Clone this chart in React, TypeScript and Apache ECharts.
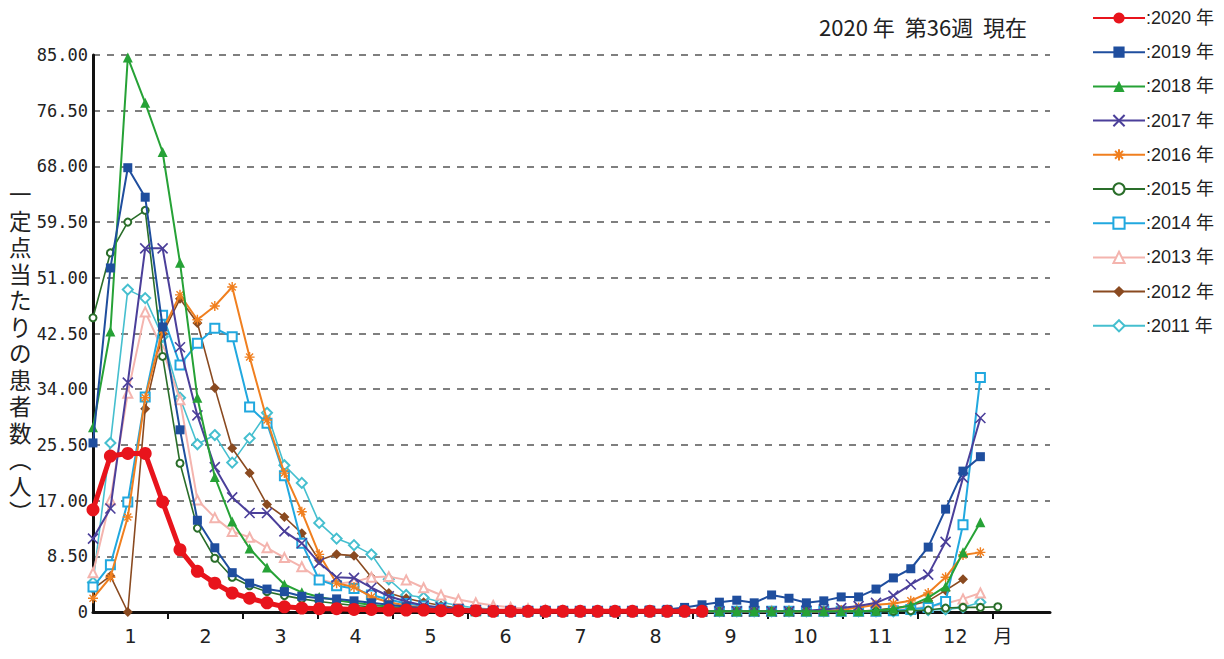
import React, { useEffect, useRef } from 'react';
import * as echarts from 'echarts';

// ---- texts ----
const TITLE = '2020 年  第36週  現在';
const Y_NAME_CHARS = ['一', '定', '点', '当', 'た', 'り', 'の', '患', '者', '数', '︵', '人', '︶'];
const MONTH_LABELS = ['1', '2', '3', '4', '5', '6', '7', '8', '9', '10', '11', '12', '月'];
const YEAR_NAMES = ['2020 年', '2019 年', '2018 年', '2017 年', '2016 年', '2015 年', '2014 年', '2013 年', '2012 年', '2011 年'];

// ---- axis ranges ----
const Y_MIN = 0;
const Y_MAX = 85;
const Y_INTERVAL = 8.5;
const X_MAX_WEEK_INDEX = 55;
const WEEKS_PER_MONTH = 4.31;
const MONTH_CHAR_POS = 52.3;

// ---- series values (weekly, week 1 = index 0) ----
const v2020 = [15.6, 23.8, 24.2, 24.2, 16.8, 9.5, 6.2, 4.4, 2.9, 2.1, 1.4, 0.8, 0.6, 0.5, 0.5, 0.4, 0.4, 0.3, 0.3, 0.3, 0.2, 0.2, 0.2, 0.1, 0.1, 0.1, 0.1, 0.1, 0.1, 0.1, 0.1, 0.1, 0.1, 0.1, 0.1, 0.1];
const v2019 = [25.8, 52.5, 67.8, 63.3, 43.5, 27.8, 14.0, 9.8, 6.0, 4.4, 3.5, 3.1, 2.4, 2.1, 2.0, 1.7, 1.4, 1.1, 0.8, 0.6, 0.4, 0.3, 0.2, 0.2, 0.1, 0.1, 0.1, 0.1, 0.1, 0.1, 0.2, 0.2, 0.3, 0.4, 0.7, 1.1, 1.5, 1.8, 1.4, 2.6, 2.1, 1.4, 1.7, 2.3, 2.3, 3.5, 5.2, 6.6, 9.9, 15.7, 21.5, 23.7];
const v2018 = [28.2, 42.8, 84.6, 77.7, 70.2, 53.3, 32.7, 20.6, 13.8, 9.7, 6.8, 4.2, 3.0, 2.3, 1.8, 1.4, 1.1, 0.8, 0.6, 0.4, 0.3, 0.2, 0.1, 0.1, 0.1, 0.1, 0.1, 0.1, 0.1, 0.1, 0.1, 0.1, 0.1, 0.1, 0.1, 0.1, 0.1, 0.1, 0.1, 0.1, 0.1, 0.1, 0.1, 0.1, 0.1, 0.2, 0.5, 1.0, 2.2, 3.9, 9.1, 13.7];
const v2017 = [11.2, 15.8, 35.0, 55.5, 55.5, 40.4, 30.0, 22.1, 17.5, 15.1, 15.1, 12.3, 10.5, 7.5, 5.3, 5.2, 3.7, 2.4, 1.6, 1.0, 0.7, 0.5, 0.3, 0.2, 0.1, 0.1, 0.1, 0.1, 0.1, 0.1, 0.1, 0.1, 0.1, 0.1, 0.1, 0.1, 0.1, 0.1, 0.1, 0.1, 0.1, 0.2, 0.4, 0.6, 0.9, 1.4, 2.5, 4.2, 5.7, 10.7, 20.5, 29.6];
const v2016 = [2.1, 5.3, 14.5, 32.7, 43.0, 48.4, 44.6, 46.7, 49.6, 38.9, 29.3, 21.2, 15.3, 8.8, 4.4, 3.8, 2.3, 1.5, 1.0, 0.6, 0.4, 0.3, 0.2, 0.1, 0.1, 0.1, 0.1, 0.1, 0.1, 0.1, 0.1, 0.1, 0.1, 0.1, 0.1, 0.1, 0.1, 0.1, 0.1, 0.1, 0.1, 0.1, 0.1, 0.3, 0.7, 1.1, 1.3, 1.7, 2.9, 5.3, 8.7, 9.1];
const v2015 = [44.9, 54.8, 59.5, 61.3, 39.0, 22.7, 12.8, 8.2, 5.3, 4.0, 3.1, 2.5, 2.0, 1.6, 1.3, 1.0, 0.8, 0.6, 0.4, 0.3, 0.2, 0.1, 0.1, 0.1, 0.1, 0.1, 0.1, 0.1, 0.1, 0.1, 0.1, 0.1, 0.1, 0.1, 0.1, 0.1, 0.1, 0.1, 0.1, 0.1, 0.1, 0.1, 0.1, 0.1, 0.1, 0.1, 0.1, 0.2, 0.3, 0.6, 0.7, 0.7, 0.8];
const v2014 = [3.8, 7.2, 16.8, 32.8, 45.3, 37.7, 41.0, 43.3, 42.0, 31.3, 28.8, 20.8, 10.5, 4.9, 4.0, 3.6, 2.6, 1.9, 1.3, 0.9, 0.6, 0.4, 0.2, 0.1, 0.1, 0.1, 0.1, 0.1, 0.1, 0.1, 0.1, 0.1, 0.1, 0.1, 0.1, 0.1, 0.1, 0.1, 0.1, 0.1, 0.1, 0.1, 0.1, 0.1, 0.1, 0.1, 0.2, 0.4, 0.7, 1.6, 13.3, 35.8];
const v2013 = [6.0, 17.1, 33.4, 45.8, 40.0, 32.4, 17.1, 14.4, 12.3, 11.4, 9.8, 8.3, 6.9, 5.0, 4.3, 4.6, 5.3, 5.4, 4.9, 3.7, 2.6, 1.9, 1.4, 1.0, 0.7, 0.5, 0.3, 0.2, 0.1, 0.1, 0.1, 0.1, 0.1, 0.1, 0.1, 0.1, 0.1, 0.1, 0.1, 0.1, 0.1, 0.1, 0.1, 0.1, 0.1, 0.1, 0.3, 0.5, 0.8, 1.3, 2.0, 2.9];
const v2012 = [3.5, 5.5, 0, 31.0, 42.5, 47.8, 44.1, 34.2, 25.0, 21.2, 16.4, 14.5, 12.0, 7.9, 8.8, 8.6, 5.3, 2.9, 2.1, 1.5, 1.0, 0.6, 0.4, 0.2, 0.1, 0.1, 0.1, 0.1, 0.1, 0.1, 0.1, 0.1, 0.1, 0.1, 0.1, 0.1, 0.1, 0.1, 0.1, 0.1, 0.1, 0.1, 0.1, 0.1, 0.1, 0.3, 0.6, 1.0, 1.7, 3.3, 5.0];
const v2011 = [4.5, 25.8, 49.2, 47.9, 42.0, 32.7, 25.6, 27.0, 22.8, 26.5, 30.4, 22.4, 19.7, 13.6, 11.2, 10.2, 8.8, 5.0, 2.6, 2.2, 1.5, 1.0, 0.6, 0.4, 0.2, 0.1, 0.1, 0.1, 0.1, 0.1, 0.1, 0.1, 0.1, 0.1, 0.1, 0.1, 0.1, 0.1, 0.1, 0.1, 0.1, 0.1, 0.1, 0.1, 0.1, 0.1, 0.1, 0.2, 0.3, 0.4, 0.7, 1.5];

const SERIES_VALUES = [v2020, v2019, v2018, v2017, v2016, v2015, v2014, v2013, v2012, v2011];

// ---- styles ----
const X_SYMBOL = 'path://M0,0L10,10M10,0L0,10';
const STAR_SYMBOL = 'path://M5,0L5,10M0,5L10,5M1.5,1.5L8.5,8.5M8.5,1.5L1.5,8.5';
const STYLES = [
  { color: '#e8141c', symbol: 'circle', size: 13, width: 5, border: 0 },
  { color: '#1f4e9e', symbol: 'rect', size: 9, width: 2, border: 0 },
  { color: '#26a236', symbol: 'triangle', size: 10, width: 2, border: 0 },
  { color: '#4b3f9a', symbol: X_SYMBOL, size: 10, width: 2, border: 1.6 },
  { color: '#f07f1f', symbol: STAR_SYMBOL, size: 10, width: 2, border: 1.4 },
  { color: '#2a6e2a', symbol: 'emptyCircle', size: 7, width: 1.6, border: 1.6 },
  { color: '#21a8df', symbol: 'emptyRect', size: 9, width: 2, border: 1.6 },
  { color: '#f4b4ae', symbol: 'emptyTriangle', size: 9, width: 2, border: 1.6 },
  { color: '#8a4a20', symbol: 'diamond', size: 10, width: 1.6, border: 0 },
  { color: '#45bfcf', symbol: 'emptyDiamond', size: 10, width: 1.6, border: 1.4 },
];

export default function App() {
  const ref = useRef<HTMLDivElement>(null);

  useEffect(() => {
    document.body.style.margin = '0';
    if (!ref.current) return;
    const chart = echarts.init(ref.current, null, { renderer: 'svg' });

    const tickValues = Array.from({ length: 12 }, (_, k) => (k + 1) * WEEKS_PER_MONTH);
    const labelValues = Array.from({ length: 12 }, (_, k) => (k + 0.5) * WEEKS_PER_MONTH).concat([MONTH_CHAR_POS]);

    const series = SERIES_VALUES.map((vals, s) => {
      const st = STYLES[s];
      return {
        name: YEAR_NAMES[s],
        type: 'line',
        data: vals.map((v, i) => [i, v]),
        symbol: st.symbol,
        symbolSize: st.size,
        showAllSymbol: true,
        z: s === 0 ? 20 : 10 - s,
        lineStyle: { color: st.color, width: st.width },
        itemStyle: {
          color: st.color,
          borderColor: st.color,
          borderWidth: st.border,
        },
        emphasis: { disabled: true },
      };
    });

    chart.setOption({
      animation: false,
      backgroundColor: '#ffffff',
      title: {
        text: TITLE,
        right: 192,
        top: 10,
        textStyle: {
          fontSize: 22,
          fontWeight: 'normal',
          fontFamily: 'Noto Sans CJK JP',
          color: '#222',
        },
      },
      graphic: [
        {
          type: 'text',
          left: 9,
          top: 180,
          style: {
            text: Y_NAME_CHARS.join('\n'),
            fontSize: 22.5,
            lineHeight: 26.5,
            fontFamily: 'Noto Sans CJK JP',
            fill: '#222',
          },
        },
      ],
      legend: {
        orient: 'vertical',
        left: 1087,
        top: 3,
        itemWidth: 52,
        itemHeight: 14,
        itemGap: 14.2,
        data: YEAR_NAMES,
        formatter: (name: string) => ':' + name,
        textStyle: {
          fontSize: 18,
          lineHeight: 20,
          fontFamily: 'Liberation Sans, Noto Sans CJK JP, sans-serif',
          color: '#222',
          padding: [0, 0, 0, -4],
        },
      },
      grid: {
        left: 93,
        right: 174,
        top: 55,
        bottom: 47,
        containLabel: false,
        outerBoundsMode: 'none',
      },
      xAxis: {
        type: 'value',
        min: 0,
        max: X_MAX_WEEK_INDEX,
        axisLine: { show: true, onZero: false, lineStyle: { color: '#111', width: 3 } },
        axisTick: {
          show: true,
          customValues: tickValues,
          length: 7,
          lineStyle: { color: '#111', width: 2 },
        },
        axisLabel: {
          customValues: labelValues,
          margin: 14,
          fontSize: 19,
          color: '#222',
          fontFamily: 'DejaVu Sans, Noto Sans CJK JP, sans-serif',
          formatter: (value: number) => {
            if (value > 12 * WEEKS_PER_MONTH) return MONTH_LABELS[12];
            return MONTH_LABELS[Math.min(11, Math.floor(value / WEEKS_PER_MONTH))];
          },
        },
        splitLine: { show: false },
      },
      yAxis: {
        type: 'value',
        min: Y_MIN,
        max: Y_MAX,
        interval: Y_INTERVAL,
        axisLine: { show: true, lineStyle: { color: '#111', width: 3 } },
        axisTick: { show: false },
        axisLabel: {
          fontSize: 17,
          margin: 5,
          color: '#222',
          fontFamily: 'DejaVu Sans Mono, monospace',
          formatter: (v: number) => (v === 0 ? '0' : v.toFixed(2)),
        },
        splitLine: {
          show: true,
          lineStyle: { color: '#555', width: 1.6, type: [7, 7] },
        },
      },
      series,
    });

    return () => chart.dispose();
  }, []);

  return <div ref={ref} style={{ width: 1224, height: 659 }} />;
}
